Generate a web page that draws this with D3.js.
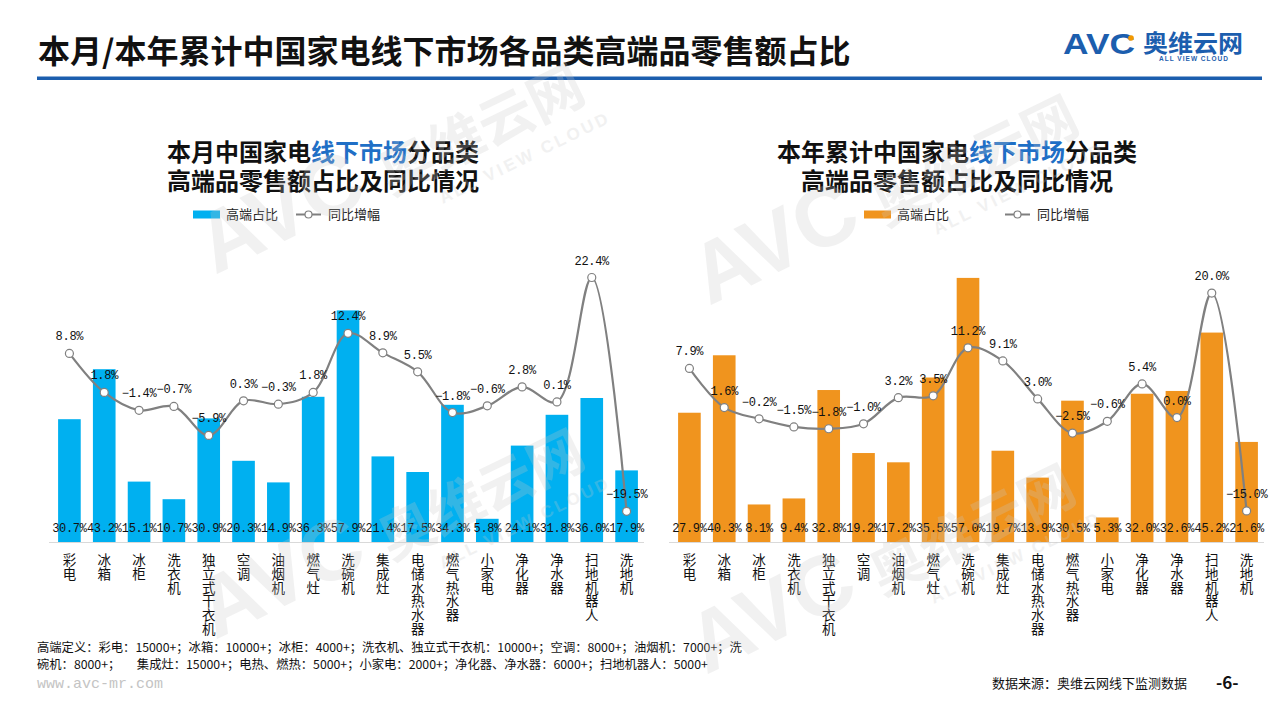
<!DOCTYPE html>
<html><head><meta charset="utf-8">
<script src="https://cdn.jsdelivr.net/npm/d3@7/dist/d3.min.js"></script>
<style>
html,body{margin:0;padding:0;background:#fff;}
svg{display:block;font-family:"Noto Sans CJK SC","Noto Sans",sans-serif;}
</style></head>
<body><svg id="c" width="1280" height="720"></svg>
<script>
const categories = ['彩电','冰箱','冰柜','洗衣机','独立式干衣机','空调','油烟机','燃气灶','洗碗机','集成灶','电储水热水器','燃气热水器','小家电','净化器','净水器','扫地机器人','洗地机'];
const monthShare = [30.7,43.2,15.1,10.7,30.9,20.3,14.9,36.3,57.9,21.4,17.5,34.3,5.8,24.1,31.8,36.0,17.9];
const monthYoY   = [8.8,1.8,-1.4,-0.7,-5.9,0.3,-0.3,1.8,12.4,8.9,5.5,-1.8,-0.6,2.8,0.1,22.4,-19.5];
const ytdShare   = [27.9,40.3,8.1,9.4,32.8,19.2,17.2,35.5,57.0,19.7,13.9,30.5,5.3,32.0,32.6,45.2,21.6];
const ytdYoY     = [7.9,1.6,-0.2,-1.5,-1.8,-1.0,3.2,3.5,11.2,9.1,3.0,-2.5,-0.6,5.4,0.0,20.0,-15.0];
const seriesNames = ['高端占比','同比增幅'];
const mainTitle = '本月/本年累计中国家电线下市场各品类高端品零售额占比';
const noteLines = ['高端定义：彩电：15000+；冰箱：10000+；冰柜：4000+；洗衣机、独立式干衣机：10000+；空调：8000+；油烟机：7000+；洗',
                   '碗机：8000+；      集成灶：15000+；电热、燃热：5000+；小家电：2000+；净化器、净水器：6000+；扫地机器人：5000+'];

const svg = d3.select('#c');
svg.append('rect').attr('width',1280).attr('height',720).attr('fill','#fff');

// header
svg.append('text').attr('x',38).attr('y',63).attr('font-size',32).attr('font-weight','bold')
  .attr('fill','#111').text(mainTitle);
svg.append('rect').attr('x',37).attr('y',76.5).attr('width',1225).attr('height',3.5).attr('fill','#1c5eae');
// logo
svg.append('text').attr('x',1063).attr('y',54).attr('font-family','"Liberation Sans",Arial,sans-serif')
  .attr('font-size',30).attr('font-weight','bold').attr('fill','#1c5eae')
  .attr('textLength',72).attr('lengthAdjust','spacingAndGlyphs').text('AVC');
svg.append('circle').attr('cx',1131).attr('cy',38).attr('r',2.8).attr('fill','#f39800');
svg.append('text').attr('x',1143).attr('y',52).attr('font-size',24).attr('font-weight','bold').attr('fill','#1c5eae')
  .attr('textLength',100).attr('lengthAdjust','spacingAndGlyphs').text('奥维云网');
svg.append('text').attr('x',1159).attr('y',61).attr('font-family','"Liberation Sans",Arial,sans-serif')
  .attr('font-size',6.5).attr('font-weight','bold').attr('fill','#1c5eae')
  .attr('textLength',69).attr('lengthAdjust','spacing').text('ALL VIEW CLOUD');

function drawChart(cfg){
  const g = svg.append('g');
  const x = d3.scaleBand().domain(categories).range(cfg.xr).paddingInner(0.35).paddingOuter(0.175);
  const yb = d3.scaleLinear().domain([0,60]).range([542,cfg.barTop]);
  const yl = d3.scaleLinear().domain(cfg.lineDom).range([542,cfg.lineTop]);
  const cx = d => x(d)+x.bandwidth()/2;

  // titles
  const tc = (cfg.xr[0]+cfg.xr[1])/2 + cfg.titleShift;
  const t1 = g.append('text').attr('x',tc).attr('y',161).attr('text-anchor','middle')
    .attr('font-size',24).attr('font-weight','bold').attr('fill','#111');
  t1.append('tspan').text(cfg.t1a);
  t1.append('tspan').attr('fill','#1f6fc6').text('线下市场');
  t1.append('tspan').text('分品类');
  g.append('text').attr('x',tc).attr('y',190).attr('text-anchor','middle')
    .attr('font-size',24).attr('font-weight','bold').attr('fill','#111').text('高端品零售额占比及同比情况');

  // legend
  const L = cfg.leg;
  g.append('rect').attr('x',L[0]).attr('y',210.5).attr('width',27).attr('height',8).attr('fill',cfg.color);
  g.append('text').attr('x',L[0]+33).attr('y',219).attr('font-size',13).attr('fill','#222').text(seriesNames[0]);
  g.append('line').attr('x1',L[1]).attr('x2',L[1]+25).attr('y1',214.5).attr('y2',214.5).attr('stroke','#7f7f7f').attr('stroke-width',2);
  g.append('circle').attr('cx',L[1]+12.5).attr('cy',214.5).attr('r',3.5).attr('fill','#fff').attr('stroke','#7f7f7f').attr('stroke-width',1.2);
  g.append('text').attr('x',L[1]+32).attr('y',219).attr('font-size',13).attr('fill','#222').text(seriesNames[1]);

  // bars
  g.selectAll('rect.bar').data(categories).join('rect').attr('class','bar')
    .attr('x',d=>x(d)).attr('width',x.bandwidth())
    .attr('y',(d,i)=>yb(cfg.share[i])).attr('height',(d,i)=>542-yb(cfg.share[i]))
    .attr('fill',cfg.color);
  // axis line
  g.append('line').attr('x1',cfg.xr[0]-3).attr('x2',cfg.xr[1]).attr('y1',542.5).attr('y2',542.5)
    .attr('stroke','#d9d9d9').attr('stroke-width',1);

  // bar labels
  g.selectAll('text.bl').data(categories).join('text').attr('class','bl')
    .attr('x',d=>cx(d)).attr('y',531.5).attr('text-anchor','middle')
    .attr('font-family','"Liberation Mono","DejaVu Sans Mono",monospace').attr('font-size',12)
    .attr('letter-spacing',-0.3).attr('fill','#111')
    .text((d,i)=>cfg.share[i].toFixed(1)+'%');

  // line
  const line = d3.line().x((d,i)=>cx(categories[i])).y(d=>yl(d)).curve(d3.curveCatmullRom.alpha(0.5));
  g.append('path').attr('d',line(cfg.yoy)).attr('fill','none').attr('stroke','#808080').attr('stroke-width',2.2);
  g.selectAll('circle.pt').data(cfg.yoy).join('circle').attr('class','pt')
    .attr('cx',(d,i)=>cx(categories[i])).attr('cy',d=>yl(d)).attr('r',4)
    .attr('fill','#fff').attr('stroke','#808080').attr('stroke-width',1.2);
  g.selectAll('text.ll').data(cfg.yoy).join('text').attr('class','ll')
    .attr('x',(d,i)=>cx(categories[i])).attr('y',d=>yl(d)-13).attr('text-anchor','middle')
    .attr('font-family','"Liberation Mono","DejaVu Sans Mono",monospace').attr('font-size',12)
    .attr('letter-spacing',-0.3).attr('fill','#111')
    .text(d=>(d<0?'−':'')+Math.abs(d).toFixed(1)+'%');

  // category labels (vertical)
  const cl = g.selectAll('text.cl').data(categories).join('text').attr('class','cl')
    .attr('font-size',13.5).attr('fill','#111').attr('text-anchor','middle');
  cl.each(function(d){
    const t = d3.select(this);
    Array.from(d).forEach((ch,k)=>{
      t.append('tspan').attr('x',cx(d)).attr('y',565+k*13.8).text(ch);
    });
  });
}

drawChart({xr:[52,644], barTop:302, lineDom:[-25,25], lineTop:263, share:monthShare, yoy:monthYoY,
  color:'#00b0f0', t1a:'本月中国家电', leg:[193,296], titleShift:-25});
drawChart({xr:[672,1264], barTop:264, lineDom:[-20,25], lineTop:262, share:ytdShare, yoy:ytdYoY,
  color:'#f0941e', t1a:'本年累计中国家电', leg:[864,1005], titleShift:-11});

// footer
noteLines.forEach((s,i)=>{
  svg.append('text').attr('x',37).attr('y',652+i*17).attr('font-size',12.3).attr('fill','#111')
    .attr('xml:space','preserve').style('white-space','pre').text(s);
});
svg.append('text').attr('x',37).attr('y',688).attr('font-family','"Liberation Mono","DejaVu Sans Mono",monospace')
  .attr('font-size',15).attr('fill','#c4c4c4').text('www.avc-mr.com');
svg.append('text').attr('x',992).attr('y',688).attr('font-size',13).attr('fill','#111').text('数据来源：奥维云网线下监测数据');
svg.append('text').attr('x',1216).attr('y',689).attr('font-size',17).attr('font-weight','bold').attr('fill','#111').text('-6-');

// watermarks (faint overlay)
function wm(x0,y0){
  const w = svg.append('g').attr('transform',`translate(${x0},${y0}) rotate(-26)`)
    .attr('fill','#c8c8c8').attr('opacity',0.25).style('pointer-events','none');
  w.append('text').attr('x',0).attr('y',0).attr('font-family','"Liberation Sans",Arial,sans-serif')
    .attr('font-size',85).attr('font-weight','bold').text('AVC');
  w.append('text').attr('x',193).attr('y',6).attr('font-size',55).attr('font-weight','bold').text('奥维云网');
  w.append('text').attr('x',330).attr('y',36).attr('text-anchor','middle').attr('font-family','"Liberation Sans",Arial,sans-serif')
    .attr('font-size',17).attr('font-weight','bold').attr('letter-spacing',3).text('ALL VIEW CLOUD');
}
wm(215,275);
wm(215,640);
wm(709,306);
wm(706,675);
</script></body></html>
